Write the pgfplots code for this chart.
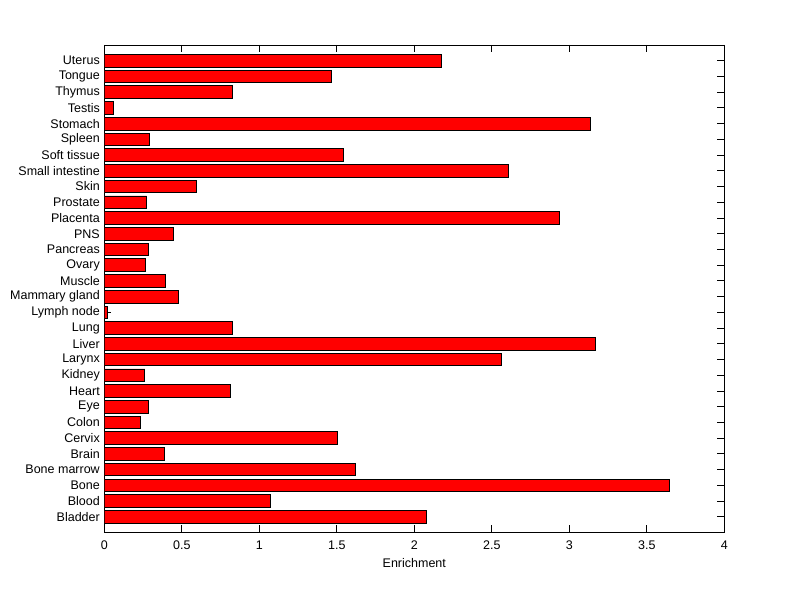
\documentclass[border=0pt]{standalone}
\usepackage{pgfplots}
\pgfplotsset{compat=1.18}
\usepackage{fontspec}
\setmainfont{Liberation Sans}
\definecolor{barred}{RGB}{255,0,0}
\begin{document}
\begin{tikzpicture}
\useasboundingbox (-104.3bp,-66.5bp) rectangle (695.7bp,532.5bp);
\begin{axis}[
  at={(0,0)}, anchor=south west,
  scale only axis,
  width=620bp, height=487.5bp,
  xbar, bar width=0.8,
  xmin=0, xmax=4, ymin=-1, ymax=30,
  xtick={0,0.5,...,4},
  xticklabels={0,0.5,1,1.5,2,2.5,3,3.5,4},
  ytick={0,...,29},
  yticklabels={Bladder,Blood,Bone,Bone marrow,Brain,Cervix,Colon,Eye,Heart,Kidney,Larynx,Liver,Lung,Lymph node,Mammary gland,Muscle,Ovary,Pancreas,PNS,Placenta,Prostate,Skin,Small intestine,Soft tissue,Spleen,Stomach,Testis,Thymus,Tongue,Uterus},
  xtick pos=both, ytick pos=both,
  tick align=inside,
  major tick length=7bp,
  axis line style={line width=0.8bp},
  every tick/.style={black, line width=0.8bp},
  font=\fontsize{12.5bp}{15bp}\selectfont,
  /pgf/number format/assume math mode=true,
  xlabel={Enrichment},
  xlabel style={yshift=-2bp},
  xticklabel style={yshift=-5bp},
  yticklabel style={xshift=-1bp},
]
\addplot[fill=barred, draw=black, line width=0.8bp] coordinates {
(2.079,0) (1.074,1) (3.644,2) (1.623,3) (0.390,4) (1.507,5) (0.235,6) (0.287,7) (0.816,8) (0.261,9)
(2.559,10) (3.166,11) (0.829,12) (0.022,13) (0.480,14) (0.396,15) (0.267,16) (0.286,17) (0.448,18) (2.933,19)
(0.273,20) (0.596,21) (2.604,22) (1.545,23) (0.293,24) (3.134,25) (0.061,26) (0.826,27) (1.462,28) (2.178,29)
};
\end{axis}
\end{tikzpicture}
\end{document}
